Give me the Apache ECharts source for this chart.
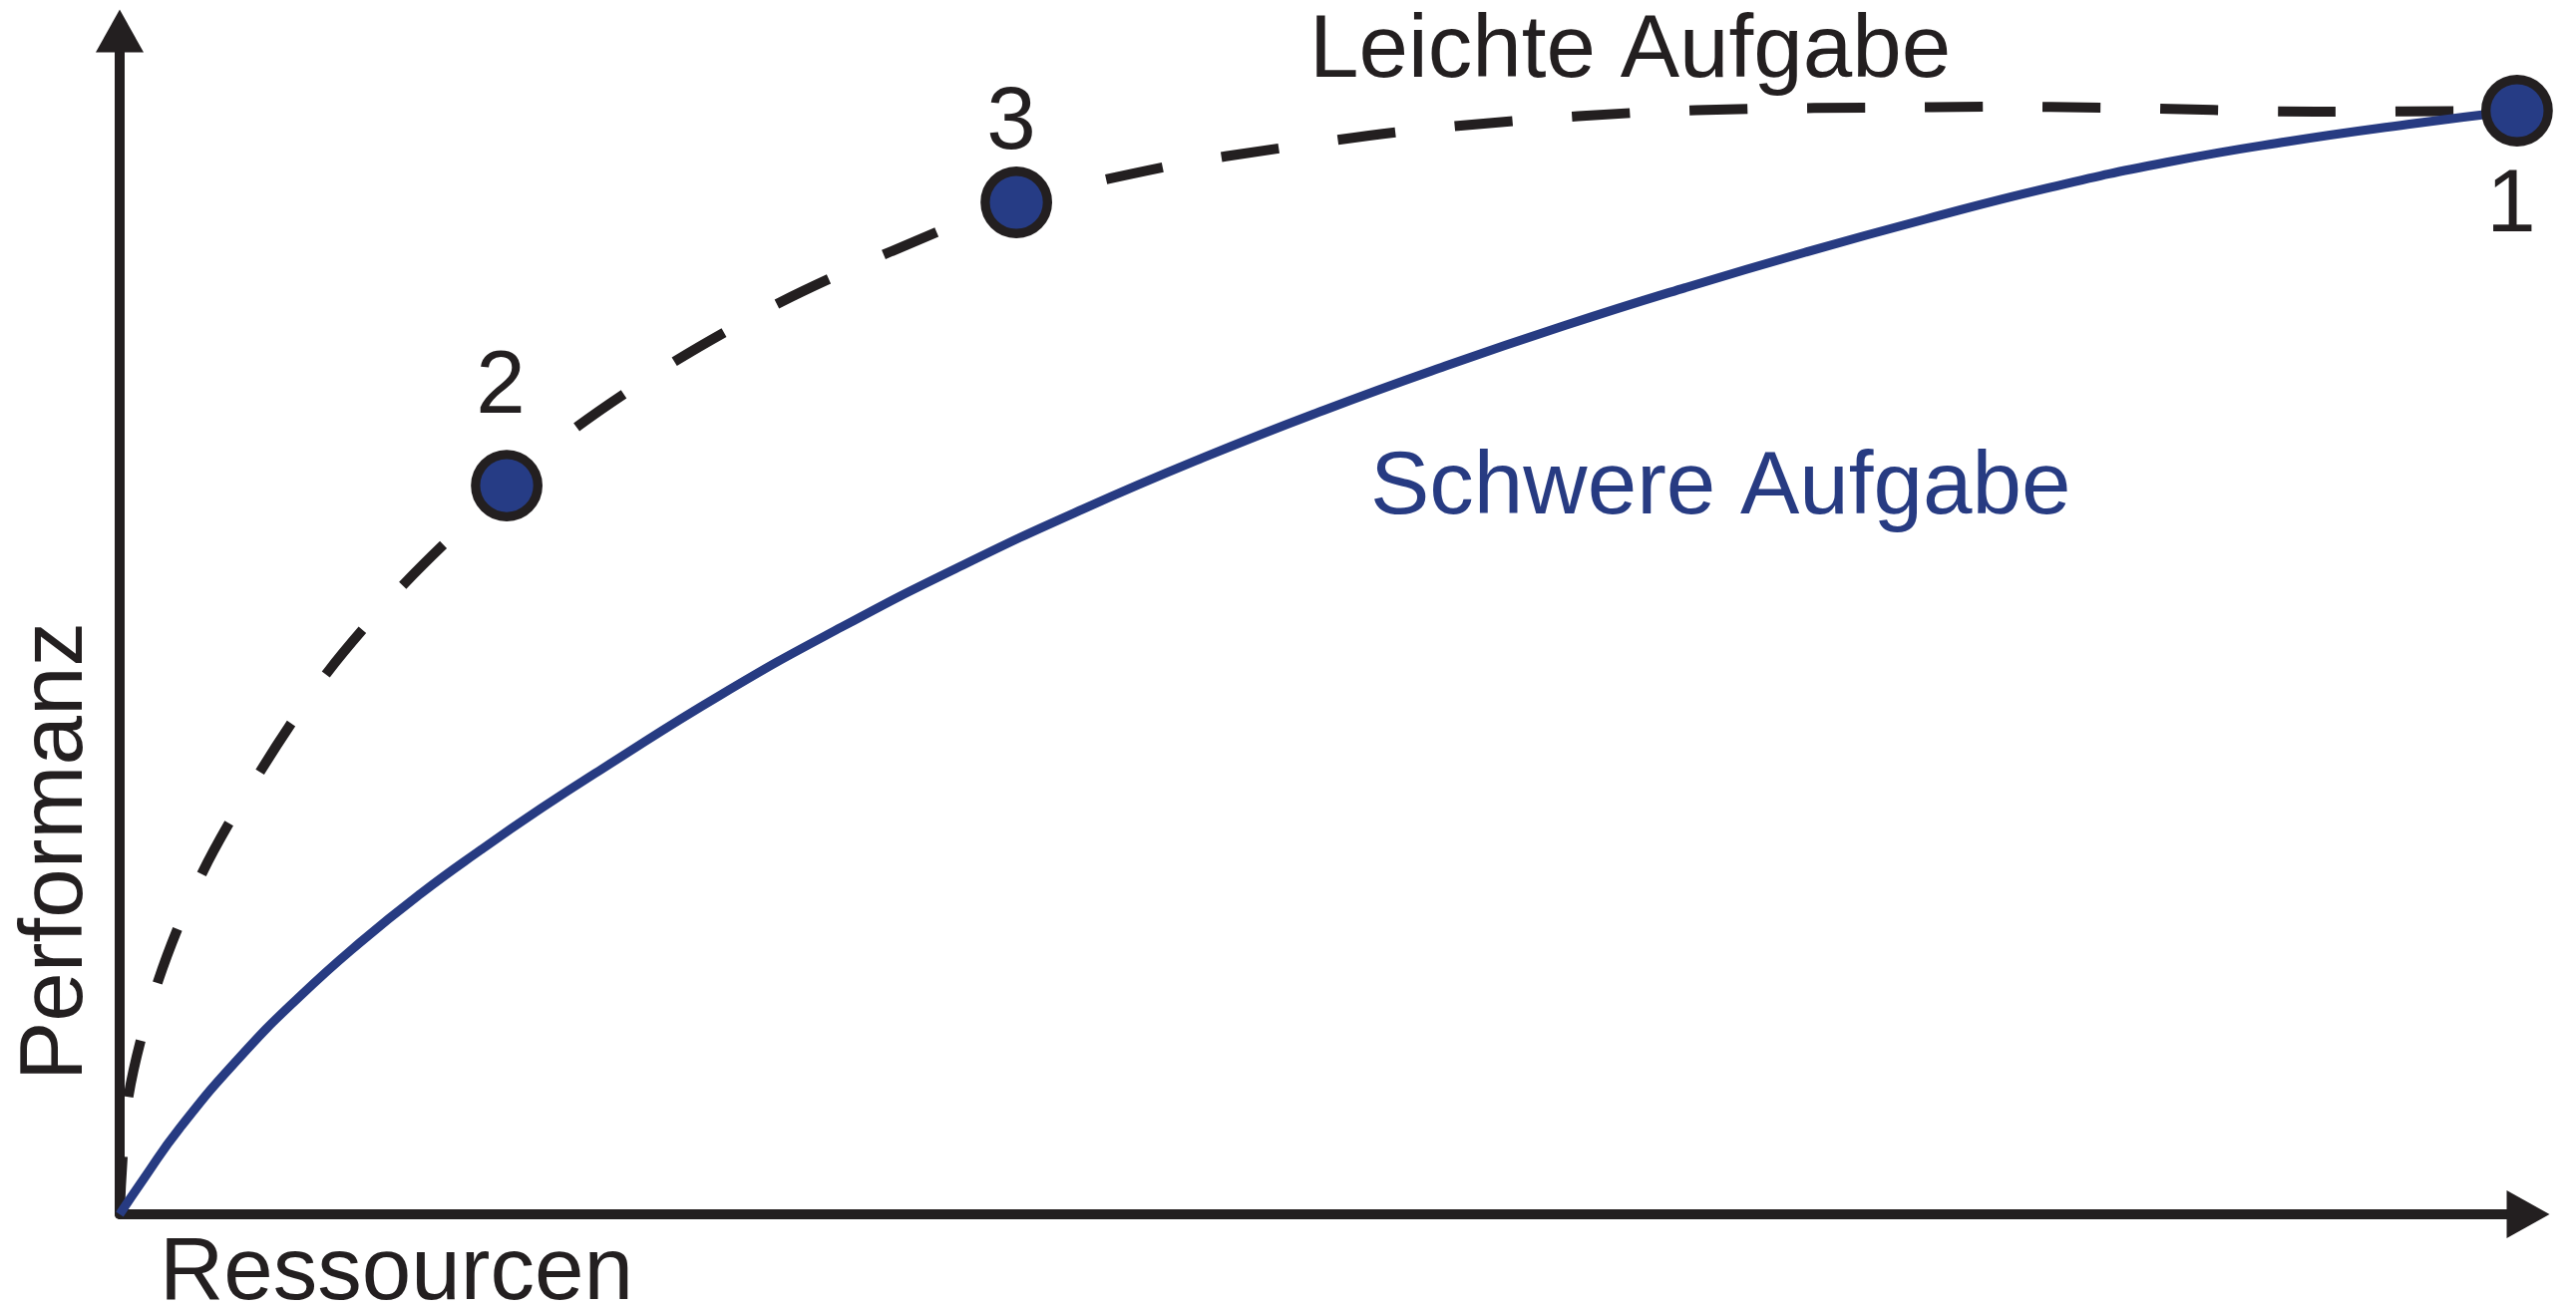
<!DOCTYPE html>
<html>
<head>
<meta charset="utf-8">
<script src="https://cdn.jsdelivr.net/npm/echarts@6/dist/echarts.min.js"></script>
<style>
  html, body { margin: 0; padding: 0; background: #ffffff; }
  #chart { width: 2583px; height: 1314px; }
</style>
</head>
<body>
<div id="chart"></div>
<script>
// ---- data (axes run 0..100 in arbitrary units) ----
const easyX = [0, 0.37, 1.61, 3.44, 5.88, 8.61, 11.84, 16.07, 19.05, 23.15, 27.45, 32.05, 37.23, 43.48, 48.36, 53.21, 58.14, 62.98, 67.91, 72.80, 77.72, 82.65, 91.22, 99.54];
const easyY = [0, 10.03, 19.80, 28.90, 37.57, 45.75, 53.33, 61.58, 66.64, 72.20, 77.09, 81.38, 85.51, 88.54, 90.14, 91.49, 92.42, 93.09, 93.43, 93.51, 93.60, 93.51, 93.18, 93.26];

const hardX = [0, 1, 2.5, 5, 7.5, 10, 12.5, 15, 17.5, 20, 25, 30, 35, 40, 45, 50, 55, 60, 65, 70, 75, 80, 85, 90, 95, 99.54];
const hardY = [0, 3.0, 7.3, 13.3, 18.45, 23.0, 27.1, 30.8, 34.3, 37.6, 43.95, 49.65, 54.85, 59.6, 63.95, 67.95, 71.65, 75.1, 78.3, 81.3, 84.1, 86.7, 88.9, 90.65, 92.1, 93.26];

const pointLabels = ['1', '2', '3'];
const pointX = [99.54, 16.07, 37.23];
const pointY = [93.26, 61.58, 85.51];

const xAxisName = 'Ressourcen';
const yAxisName = 'Performanz';
const easyName = 'Leichte Aufgabe';
const hardName = 'Schwere Aufgabe';

// ---- styling / layout ----
const INK = '#231f20';
const BLUE = '#273b82';
const FONT = 'Liberation Sans, Arial, sans-serif';
const FS = 89;
const labelOffset = { '1': [-6, 96], '2': [-6, -98], '3': [-5, -79] };

const zip = (a, b) => a.map((v, i) => [v, b[i]]);

const chart = echarts.init(document.getElementById('chart'), null, { renderer: 'canvas' });

const axisCommon = {
  type: 'value',
  min: 0,
  max: 100,
  axisTick: { show: false },
  axisLabel: { show: false },
  splitLine: { show: false },
  axisLine: {
    show: true,
    onZero: false,
    symbol: ['none', 'triangle'],
    symbolSize: [48, 43],
    lineStyle: { color: INK, width: 10 }
  }
};

chart.setOption({
  animation: false,
  backgroundColor: '#ffffff',
  grid: { left: 120, right: 48, top: 31, bottom: 96, containLabel: false },
  xAxis: axisCommon,
  yAxis: axisCommon,
  series: [
    {
      name: easyName,
      type: 'line',
      data: zip(easyX, easyY),
      smooth: 0.3,
      showSymbol: false,
      clip: false,
      z: 2,
      lineStyle: { color: INK, width: 10, type: [58, 60], cap: 'butt' }
    },
    {
      name: hardName,
      type: 'line',
      data: zip(hardX, hardY),
      smooth: 0.5,
      showSymbol: false,
      clip: false,
      z: 2,
      lineStyle: { color: BLUE, width: 9 }
    },
    {
      type: 'scatter',
      z: 4,
      clip: false,
      symbol: 'circle',
      symbolSize: 62.5,
      itemStyle: { color: '#263c85', borderColor: INK, borderWidth: 9.3, opacity: 1 },
      data: pointLabels.map((name, i) => ({
        name: name,
        value: [pointX[i], pointY[i]],
        label: {
          show: true,
          position: 'inside',
          offset: labelOffset[name],
          formatter: name,
          color: INK,
          fontSize: FS,
          fontFamily: FONT,
          align: 'center',
          verticalAlign: 'middle'
        }
      }))
    }
  ],
  graphic: [
    { type: 'text', x: 1313, y: 52, style: { text: easyName, fill: INK, fontSize: FS, fontFamily: FONT, align: 'left', verticalAlign: 'middle' } },
    { type: 'text', x: 1374, y: 490, style: { text: hardName, fill: BLUE, fontSize: FS, fontFamily: FONT, align: 'left', verticalAlign: 'middle' } },
    { type: 'text', x: 160, y: 1278, style: { text: xAxisName, fill: INK, fontSize: FS, fontFamily: FONT, align: 'left', verticalAlign: 'middle' } },
    { type: 'text', x: 57, y: 854, rotation: Math.PI / 2, style: { text: yAxisName, fill: INK, fontSize: FS, fontFamily: FONT, align: 'center', verticalAlign: 'middle' } }
  ]
});
</script>
</body>
</html>
